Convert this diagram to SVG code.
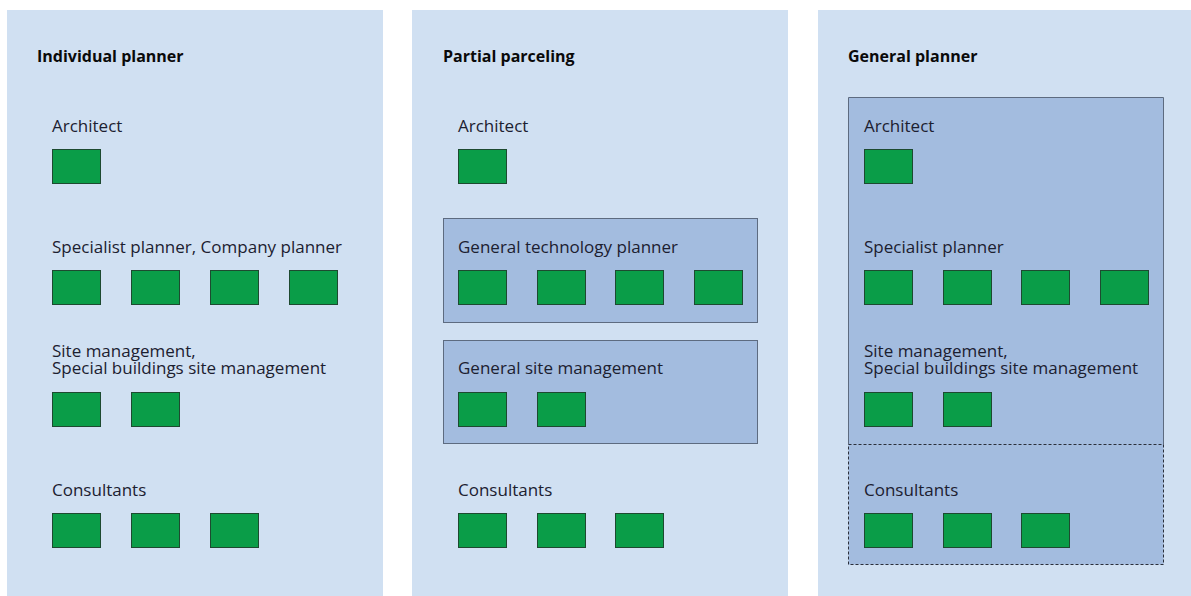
<svg xmlns="http://www.w3.org/2000/svg" width="1191" height="596" viewBox="0 0 1191 596">
<style>
.panel{fill:#d0e0f2}
.grp{fill:#a3bcdf;stroke:#5d6b80;stroke-width:1}
.dash{fill:none;stroke:#2a2f3a;stroke-width:1;stroke-dasharray:3 2}
.g{fill:#0a9d48;stroke:#1d4a30;stroke-width:1}
.t{font-family:"Open Sans","Liberation Sans",sans-serif;font-size:17px;fill:#1c2030}
.h{font-family:"Open Sans","Liberation Sans",sans-serif;font-size:16px;font-weight:bold;fill:#0a0a0a}
</style>
<rect width="1191" height="596" fill="#ffffff"/>
<g id="panel-individual">
<rect class="panel" x="7" y="10" width="376" height="586"/>
<text class="h" x="37" y="62">Individual planner</text>
<text class="t" x="52" y="132">Architect</text>
<rect class="g" x="52.5" y="149.5" width="48" height="34"/>
<text class="t" x="52" y="253">Specialist planner, Company planner</text>
<rect class="g" x="52.5" y="270.5" width="48" height="34"/>
<rect class="g" x="131.5" y="270.5" width="48" height="34"/>
<rect class="g" x="210.5" y="270.5" width="48" height="34"/>
<rect class="g" x="289.5" y="270.5" width="48" height="34"/>
<text class="t" x="52" y="357">Site management,</text>
<text class="t" x="52" y="374">Special buildings site management</text>
<rect class="g" x="52.5" y="392.5" width="48" height="34"/>
<rect class="g" x="131.5" y="392.5" width="48" height="34"/>
<text class="t" x="52" y="496">Consultants</text>
<rect class="g" x="52.5" y="513.5" width="48" height="34"/>
<rect class="g" x="131.5" y="513.5" width="48" height="34"/>
<rect class="g" x="210.5" y="513.5" width="48" height="34"/>
</g>
<g id="panel-partial">
<rect class="panel" x="412" y="10" width="376" height="586"/>
<text class="h" x="443" y="62">Partial parceling</text>
<text class="t" x="458" y="132">Architect</text>
<rect class="g" x="458.5" y="149.5" width="48" height="34"/>
<rect class="grp" x="443.5" y="218.5" width="314" height="104"/>
<text class="t" x="458" y="253">General technology planner</text>
<rect class="g" x="458.5" y="270.5" width="48" height="34"/>
<rect class="g" x="537.5" y="270.5" width="48" height="34"/>
<rect class="g" x="615.5" y="270.5" width="48" height="34"/>
<rect class="g" x="694.5" y="270.5" width="48" height="34"/>
<rect class="grp" x="443.5" y="340.5" width="314" height="103"/>
<text class="t" x="458" y="374">General site management</text>
<rect class="g" x="458.5" y="392.5" width="48" height="34"/>
<rect class="g" x="537.5" y="392.5" width="48" height="34"/>
<text class="t" x="458" y="496">Consultants</text>
<rect class="g" x="458.5" y="513.5" width="48" height="34"/>
<rect class="g" x="537.5" y="513.5" width="48" height="34"/>
<rect class="g" x="615.5" y="513.5" width="48" height="34"/>
</g>
<g id="panel-general">
<rect class="panel" x="818" y="10" width="373" height="586"/>
<text class="h" x="848" y="62">General planner</text>
<rect x="848.5" y="97.5" width="315" height="467" fill="#a3bcdf"/>
<path d="M848.5 444.5 V97.5 H1163.5 V444.5" fill="none" stroke="#5d6b80" stroke-width="1"/>
<path class="dash" d="M848.5 444.5 H1163.5 V564.5 H848.5 Z"/>
<text class="t" x="864" y="132">Architect</text>
<rect class="g" x="864.5" y="149.5" width="48" height="34"/>
<text class="t" x="864" y="253">Specialist planner</text>
<rect class="g" x="864.5" y="270.5" width="48" height="34"/>
<rect class="g" x="943.5" y="270.5" width="48" height="34"/>
<rect class="g" x="1021.5" y="270.5" width="48" height="34"/>
<rect class="g" x="1100.5" y="270.5" width="48" height="34"/>
<text class="t" x="864" y="357">Site management,</text>
<text class="t" x="864" y="374">Special buildings site management</text>
<rect class="g" x="864.5" y="392.5" width="48" height="34"/>
<rect class="g" x="943.5" y="392.5" width="48" height="34"/>
<text class="t" x="864" y="496">Consultants</text>
<rect class="g" x="864.5" y="513.5" width="48" height="34"/>
<rect class="g" x="943.5" y="513.5" width="48" height="34"/>
<rect class="g" x="1021.5" y="513.5" width="48" height="34"/>
</g>
<g id="connectors"></g>
</svg>
